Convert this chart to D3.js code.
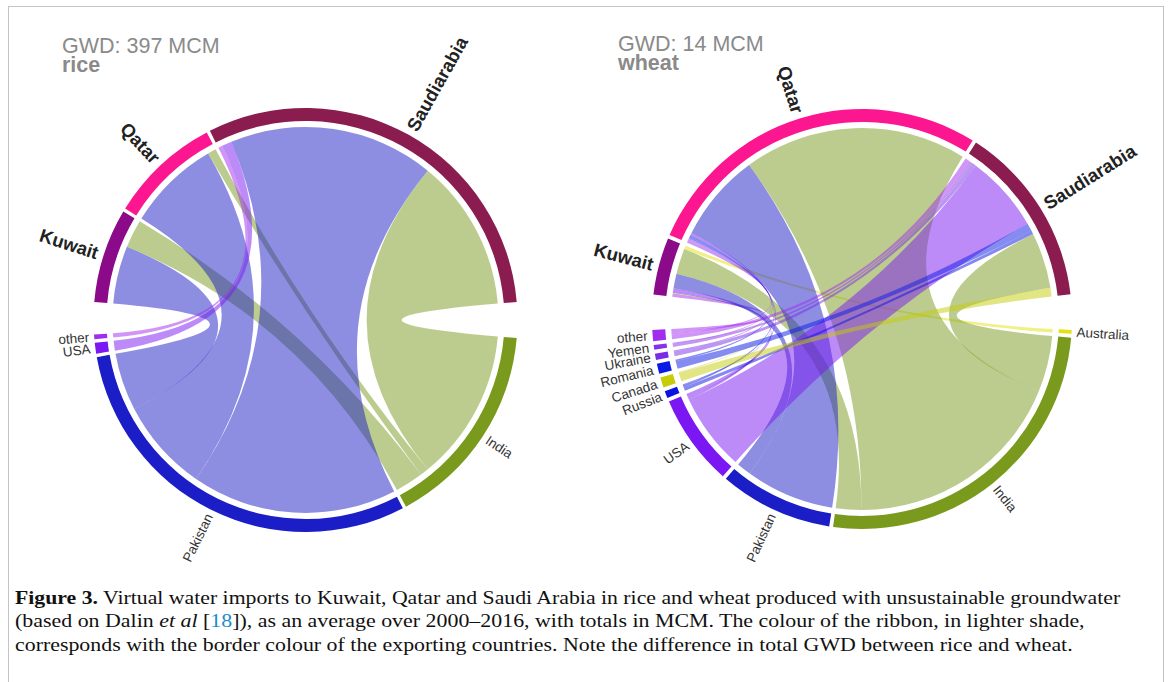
<!DOCTYPE html>
<html><head><meta charset="utf-8">
<script src="https://cdn.jsdelivr.net/npm/d3@7"></script>
<style>
html,body{margin:0;padding:0;background:#fff;}
svg{display:block;}
</style></head>
<body>
<svg id="chart" width="1168" height="682"></svg>
<script>
// ---------------- data ----------------
// rice (MCM); flows are listed in the order they sit along each importer's arc
const riceImporters = ["Kuwait", "Qatar", "Saudiarabia"];
const riceExporters = ["India", "Pakistan", "USA", "other"];
const riceFlowFrom  = ["Pakistan", "India", "Pakistan", "India", "other", "USA", "Pakistan", "India"];
const riceFlowTo    = ["Kuwait", "Kuwait", "Qatar", "Qatar", "Saudiarabia", "Saudiarabia", "Saudiarabia", "Saudiarabia"];
const riceFlowValue = [41, 20, 66, 6, 3, 7, 146, 108];
const riceTitle = "GWD: 397 MCM";
const riceCrop = "rice";

// wheat (MCM)
const wheatImporters = ["Kuwait", "Qatar", "Saudiarabia"];
const wheatExporters = ["Australia", "India", "Pakistan", "USA", "Russia", "Canada", "Romania", "Ukraine", "Yemen", "other"];
const wheatFlowFrom  = [
  "other", "Canada", "Russia", "USA", "Pakistan", "India", "Australia",
  "other", "Yemen", "Ukraine", "Romania", "Russia", "USA", "Pakistan", "India",
  "other", "Yemen", "Ukraine", "USA", "Romania", "Russia", "India", "Canada"];
const wheatFlowTo    = [
  "Kuwait", "Kuwait", "Kuwait", "Kuwait", "Kuwait", "Kuwait", "Kuwait",
  "Qatar", "Qatar", "Qatar", "Qatar", "Qatar", "Qatar", "Qatar", "Qatar",
  "Saudiarabia", "Saudiarabia", "Saudiarabia", "Saudiarabia", "Saudiarabia", "Saudiarabia", "Saudiarabia", "Saudiarabia"];
const wheatFlowValue = [
  0.08, 0.02, 0.02, 0.10, 0.38, 0.66, 0.09,
  0.06, 0.03, 0.03, 0.04, 0.05, 0.06, 2.30, 5.80,
  0.12, 0.08, 0.12, 2.00, 0.20, 0.10, 1.45, 0.22];
const wheatTitle = "GWD: 14 MCM";
const wheatCrop = "wheat";

const captionLines = [
  [{t: "Figure 3.", b: true}, {t: " Virtual water imports to Kuwait, Qatar and Saudi Arabia in rice and wheat produced with unsustainable groundwater"}],
  [{t: "(based on Dalin "}, {t: "et al", i: true}, {t: " ["}, {t: "18", link: true}, {t: "]), as an average over 2000\u20132016, with totals in MCM. The colour of the ribbon, in lighter shade,"}],
  [{t: "corresponds with the border colour of the exporting countries. Note the difference in total GWD between rice and wheat."}]
];

// ---------------- styles ----------------
const colors = {
  Kuwait: "#8a0a8a", Qatar: "#fc168f", Saudiarabia: "#8a1c50",
  India: "#7a9a1e", Pakistan: "#1b1ec6", USA: "#7a17f2", other: "#a12cf0",
  Russia: "#0a12e2", Canada: "#c5cc0a", Romania: "#0a1ae6", Ukraine: "#7b2be8",
  Yemen: "#8a30e8", Australia: "#e2e210"
};

const svg = d3.select("#chart");
svg.append("rect").attr("x", 8.5).attr("y", 6.5).attr("width", 1155).attr("height", 700)
  .attr("fill", "none").attr("stroke", "#c4c4c4").attr("stroke-width", 1);

const rad = d => d * Math.PI / 180;

function drawPanel(p, importers, exporters, from, to, value, title, crop) {
  const g = svg.append("g").attr("transform", `translate(${p.cx},${p.cy})`);
  const flows = value.map((v, i) => ({from: from[i], to: to[i], value: v}));
  const total = d3.sum(value);
  const angle = d3.scaleLinear().domain([0, total])
    .range([0, (p.impEnd - p.impStart) - (importers.length - 1) * p.gap]);
  const sectors = [];
  let a = p.impStart;
  importers.forEach(name => {
    const tot = d3.sum(flows.filter(f => f.to === name), f => f.value);
    sectors.push({name, start: a, end: a + angle(tot), imp: true});
    a += angle(tot) + p.gap;
  });
  a = p.expStart;
  exporters.forEach(name => {
    const tot = d3.sum(flows.filter(f => f.from === name), f => f.value);
    sectors.push({name, start: a, end: a + angle(tot), imp: false});
    a += angle(tot) + p.gap;
  });
  const find = (name, imp) => sectors.find(s => s.name === name && s.imp === imp);
  importers.forEach(name => {
    let c = find(name, true).start;
    flows.filter(f => f.to === name).forEach(f => { f.t0 = c; c += angle(f.value); f.t1 = c; });
  });
  exporters.forEach(name => {
    let c = find(name, false).start;
    flows.filter(f => f.from === name)
      .sort((x, y) => importers.indexOf(y.to) - importers.indexOf(x.to))
      .forEach(f => { f.s0 = c; c += angle(f.value); f.s1 = c; });
  });

  const ribbon = d3.ribbon().radius(p.rRib);
  g.append("g").selectAll("path").data(flows).join("path")
    .attr("d", f => ribbon({
      source: {startAngle: rad(f.t0), endAngle: rad(f.t1)},
      target: {startAngle: rad(f.s0), endAngle: rad(f.s1)}
    }))
    .attr("fill", f => colors[f.from]).attr("fill-opacity", 0.5);

  const arc = d3.arc().innerRadius(p.rInner).outerRadius(p.rOuter);
  g.append("g").selectAll("path").data(sectors).join("path")
    .attr("d", s => arc({startAngle: rad(s.start), endAngle: rad(s.end)}))
    .attr("fill", s => colors[s.name]);

  g.append("g").selectAll("text").data(sectors).join("text")
    .each(function (s) {
      const m = (((s.start + s.end) / 2) % 360 + 360) % 360;
      const r = p.rOuter + (s.imp ? 6 : 5);
      const x = r * Math.sin(rad(m)), y = -r * Math.cos(rad(m));
      const right = m < 180;
      d3.select(this)
        .attr("transform", `translate(${x},${y}) rotate(${right ? m - 90 : m + 90})`)
        .attr("text-anchor", right ? "start" : "end");
    })
    .attr("dominant-baseline", "central")
    .attr("font-family", "'Liberation Sans', Arial, sans-serif")
    .attr("font-size", s => s.imp ? 18.5 : 13.5)
    .attr("font-weight", s => s.imp ? "bold" : "normal")
    .attr("fill", s => s.imp ? "#222" : "#333")
    .text(s => s.name);

  // two-line title block as one text element
  const tt = svg.append("text").attr("x", p.tx).attr("y", p.ty)
    .attr("font-family", "'Liberation Sans', Arial, sans-serif").attr("font-size", 21.5)
    .attr("fill", "#8a8a8a");
  tt.append("tspan").attr("x", p.tx).text(title);
  tt.append("tspan").attr("x", p.tx).attr("dy", 19).attr("font-weight", "bold").text(crop);
}

drawPanel({cx: 305.5, cy: 320, rOuter: 212, rInner: 199, rRib: 193,
           impStart: 274.9, impEnd: 445.1, expStart: 94.9, gap: 0.95, tx: 62, ty: 52.5},
          riceImporters, riceExporters, riceFlowFrom, riceFlowTo, riceFlowValue, riceTitle, riceCrop);
drawPanel({cx: 862, cy: 319, rOuter: 210, rInner: 197, rRib: 191,
           impStart: 276.7, impEnd: 443.2, expStart: 93.0, gap: 1.07, tx: 618, ty: 50.5},
          wheatImporters, wheatExporters, wheatFlowFrom, wheatFlowTo, wheatFlowValue, wheatTitle, wheatCrop);

// caption
const capX = 15, capY = [603.5, 627, 650.5], capW = [1106, 1070, 1058];
captionLines.forEach((segs, li) => {
  const t = svg.append("text").attr("x", 0).attr("y", 0)
    .attr("font-family", "'Liberation Serif', 'Times New Roman', serif").attr("font-size", 19)
    .attr("fill", "#111");
  segs.forEach(s => {
    const ts = t.append("tspan").text(s.t);
    if (s.b) ts.attr("font-weight", "bold");
    if (s.i) ts.attr("font-style", "italic");
    if (s.link) ts.attr("fill", "#1b8bd0");
  });
  const w = t.node().getComputedTextLength();
  t.attr("transform", `translate(${capX},${capY[li]}) scale(${capW[li] / w},1)`);
});
</script>
</body></html>
